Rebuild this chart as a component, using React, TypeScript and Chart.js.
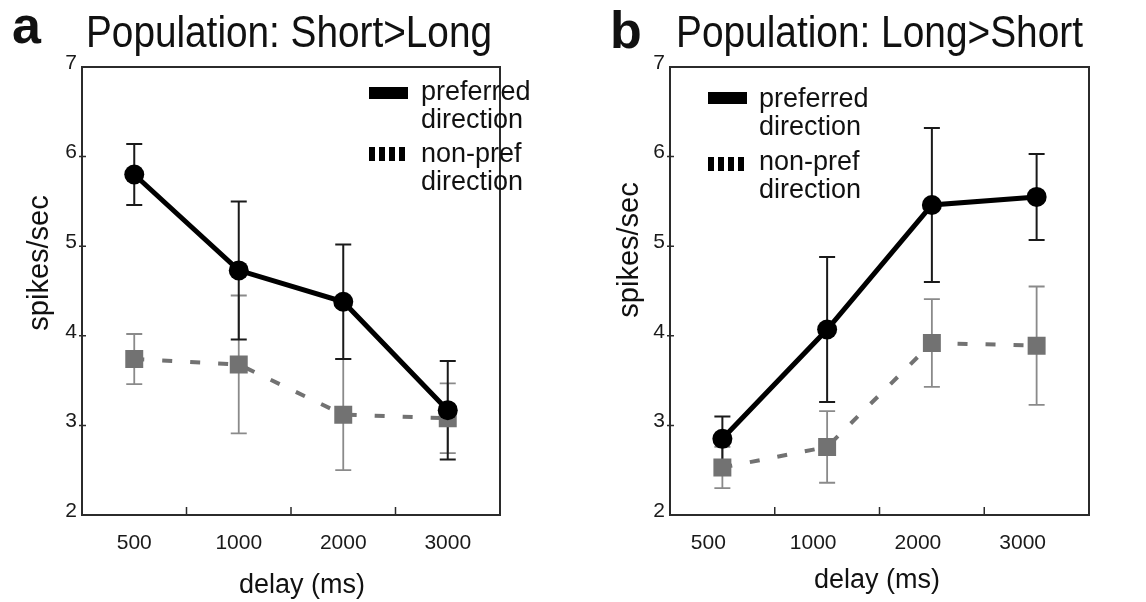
import React, { useEffect, useRef } from 'react';
import { Chart, registerables } from 'chart.js';

Chart.register(...registerables);

const FONT = '"Liberation Sans", Arial, Helvetica, sans-serif';

// ---------- data ----------
const delays = ['500', '1000', '2000', '3000'];
const yMin = 2;
const yMax = 7;

// panel a: Population Short>Long
const aPrefMean = [5.80, 4.73, 4.38, 3.17];
const aPrefErr = [0.34, 0.77, 0.64, 0.55];
const aNonMean = [3.74, 3.68, 3.12, 3.08];
const aNonErr = [0.28, 0.77, 0.62, 0.39];

// panel b: Population Long>Short
const bPrefMean = [2.85, 4.07, 5.46, 5.55];
const bPrefErr = [0.25, 0.81, 0.86, 0.48];
const bNonMean = [2.53, 2.76, 3.92, 3.89];
const bNonErr = [0.23, 0.40, 0.49, 0.66];

const legendPref = ['preferred', 'direction'];
const legendNon = ['non-pref', 'direction'];

type Spec = {
  letter: string;
  letterX: number;
  letterBase: number;
  title: string;
  titleX: number;
  titleW: number;
  titleBase: number;
  yTitleX: number;
  yTitleY: number;
  xTitleX: number;
  xTitleBase: number;
  legX: number;
  legTextX: number;
  legPrefY: number;
  legPrefBase: number;
  legNonY: number;
  legNonBase: number;
  yAxisWidth: number;
  padRight: number;
  xLabelOffset: number;
  prefMean: number[];
  prefErr: number[];
  nonMean: number[];
  nonErr: number[];
};

const specA: Spec = {
  letter: 'a', letterX: 12, letterBase: 43,
  title: 'Population: Short>Long', titleX: 86, titleW: 406, titleBase: 47,
  yTitleX: 40, yTitleY: 263,
  xTitleX: 302, xTitleBase: 593,
  legX: 369, legTextX: 421, legPrefY: 87, legPrefBase: 100, legNonY: 147, legNonBase: 162,
  yAxisWidth: 82, padRight: 73, xLabelOffset: 0,
  prefMean: aPrefMean, prefErr: aPrefErr, nonMean: aNonMean, nonErr: aNonErr,
};

const specB: Spec = {
  letter: 'b', letterX: 37, letterBase: 48,
  title: 'Population: Long>Short', titleX: 103, titleW: 407, titleBase: 47,
  yTitleX: 57, yTitleY: 250,
  xTitleX: 304, xTitleBase: 588,
  legX: 135, legTextX: 186, legPrefY: 92, legPrefBase: 107, legNonY: 157, legNonBase: 170,
  yAxisWidth: 97, padRight: 57, xLabelOffset: -14,
  prefMean: bPrefMean, prefErr: bPrefErr, nonMean: bNonMean, nonErr: bNonErr,
};

function drawErr(ctx: CanvasRenderingContext2D, xs: any, ys: any, means: number[], errs: number[], color: string, lw: number, cap: number) {
  ctx.save();
  ctx.strokeStyle = color;
  ctx.lineWidth = lw;
  means.forEach((m, i) => {
    const x = xs.getPixelForValue(i);
    const y1 = ys.getPixelForValue(m + errs[i]);
    const y2 = ys.getPixelForValue(m - errs[i]);
    ctx.beginPath();
    ctx.moveTo(x, y1); ctx.lineTo(x, y2);
    ctx.moveTo(x - cap, y1); ctx.lineTo(x + cap, y1);
    ctx.moveTo(x - cap, y2); ctx.lineTo(x + cap, y2);
    ctx.stroke();
  });
  ctx.restore();
}

function fitText(ctx: CanvasRenderingContext2D, text: string, left: number, base: number, width: number, px: number, weight = 'normal') {
  ctx.save();
  ctx.font = `${weight} ${px}px ${FONT}`;
  const w = ctx.measureText(text).width;
  ctx.translate(left, base);
  ctx.scale(width / w, 1);
  ctx.textAlign = 'left';
  ctx.textBaseline = 'alphabetic';
  ctx.fillText(text, 0, 0);
  ctx.restore();
}

function Panel({ spec }: { spec: Spec }) {
  const ref = useRef<HTMLCanvasElement>(null);
  useEffect(() => {
    const canvas = ref.current!;
    const decor = {
      id: 'decor',
      beforeDatasetsDraw(chart: any) {
        const ctx: CanvasRenderingContext2D = chart.ctx;
        const { left, right, top, bottom } = chart.chartArea;
        const xs = chart.scales.x;
        const ys = chart.scales.y;
        ctx.save();
        ctx.strokeStyle = '#2b2b2b';
        ctx.lineWidth = 2;
        ctx.strokeRect(left, top, right - left, bottom - top);
        ctx.beginPath();
        for (let i = 0; i < delays.length - 1; i++) {
          const x = (xs.getPixelForValue(i) + xs.getPixelForValue(i + 1)) / 2;
          ctx.moveTo(x, bottom);
          ctx.lineTo(x, bottom - 8);
        }
        for (let v = yMin + 1; v < yMax; v++) {
          const y = ys.getPixelForValue(v);
          ctx.moveTo(left - 3, y);
          ctx.lineTo(left + 4, y);
        }
        ctx.lineWidth = 1.5;
        ctx.stroke();
        ctx.restore();
        drawErr(ctx, xs, ys, spec.nonMean, spec.nonErr, '#8a8a8a', 1.8, 8);
        drawErr(ctx, xs, ys, spec.prefMean, spec.prefErr, '#1a1a1a', 2, 8);
      },
      afterDraw(chart: any) {
        const ctx: CanvasRenderingContext2D = chart.ctx;
        ctx.save();
        ctx.fillStyle = '#111';
        ctx.font = `bold 52px ${FONT}`;
        ctx.textAlign = 'left';
        ctx.textBaseline = 'alphabetic';
        ctx.fillText(spec.letter, spec.letterX, spec.letterBase);
        fitText(ctx, spec.title, spec.titleX, spec.titleBase, spec.titleW, 44);
        ctx.font = `27px ${FONT}`;
        ctx.textAlign = 'center';
        ctx.fillText('delay (ms)', spec.xTitleX, spec.xTitleBase);
        ctx.save();
        ctx.translate(spec.yTitleX, spec.yTitleY);
        ctx.rotate(-Math.PI / 2);
        ctx.textBaseline = 'middle';
        ctx.font = `29px ${FONT}`;
        ctx.fillText('spikes/sec', 0, 0);
        ctx.restore();
        ctx.fillStyle = '#000';
        ctx.fillRect(spec.legX, spec.legPrefY, 39, 12);
        ctx.save();
        ctx.strokeStyle = '#000';
        ctx.lineWidth = 14;
        ctx.setLineDash([6, 4]);
        ctx.beginPath();
        ctx.moveTo(spec.legX, spec.legNonY + 7);
        ctx.lineTo(spec.legX + 36, spec.legNonY + 7);
        ctx.stroke();
        ctx.restore();
        ctx.fillStyle = '#111';
        ctx.font = `27px ${FONT}`;
        ctx.textAlign = 'left';
        ctx.fillText(legendPref[0], spec.legTextX, spec.legPrefBase);
        ctx.fillText(legendPref[1], spec.legTextX, spec.legPrefBase + 28);
        ctx.fillText(legendNon[0], spec.legTextX, spec.legNonBase);
        ctx.fillText(legendNon[1], spec.legTextX, spec.legNonBase + 28);
        ctx.restore();
      },
    };

    const chart = new Chart(canvas, {
      type: 'line',
      data: {
        labels: delays,
        datasets: [
          {
            label: 'preferred direction',
            data: spec.prefMean,
            borderColor: '#000',
            backgroundColor: '#000',
            borderWidth: 5,
            pointStyle: 'circle',
            pointRadius: 10,
            pointBorderWidth: 0,
            tension: 0,
          },
          {
            label: 'non-pref direction',
            data: spec.nonMean,
            borderColor: '#727272',
            backgroundColor: '#727272',
            borderWidth: 4,
            borderDash: [10, 18],
            pointStyle: 'rect',
            pointRadius: 12.7,
            pointBorderWidth: 0,
            tension: 0,
          },
        ],
      },
      options: {
        responsive: false,
        animation: false,
        layout: { padding: { top: 67, right: spec.padRight, left: 0, bottom: 0 } },
        plugins: { legend: { display: false }, tooltip: { enabled: false }, title: { display: false } },
        scales: {
          x: {
            type: 'category',
            offset: true,
            grid: { display: false, drawTicks: false },
            border: { display: false },
            ticks: {
              font: { family: FONT, size: 21 },
              color: '#1a1a1a',
              padding: 16,
              labelOffset: spec.xLabelOffset,
              maxRotation: 0,
              autoSkip: false,
            },
            afterFit: (s: any) => { s.height = 87; },
          },
          y: {
            min: yMin,
            max: yMax,
            grid: { display: false, drawTicks: false },
            border: { display: false },
            ticks: {
              stepSize: 1,
              font: { family: FONT, size: 21 },
              color: '#1a1a1a',
              padding: 5,
              labelOffset: -4,
            },
            afterFit: (s: any) => { s.width = spec.yAxisWidth; },
          },
        },
      },
      plugins: [decor],
    } as any);
    return () => chart.destroy();
  }, [spec]);
  return <canvas ref={ref} width={573} height={602} style={{ display: 'block', width: 573, height: 602 }} />;
}

export default function App() {
  return (
    <div style={{ position: 'absolute', left: 0, top: 0, width: 1146, height: 602, display: 'flex', background: '#fff' }}>
      <Panel spec={specA} />
      <Panel spec={specB} />
    </div>
  );
}
